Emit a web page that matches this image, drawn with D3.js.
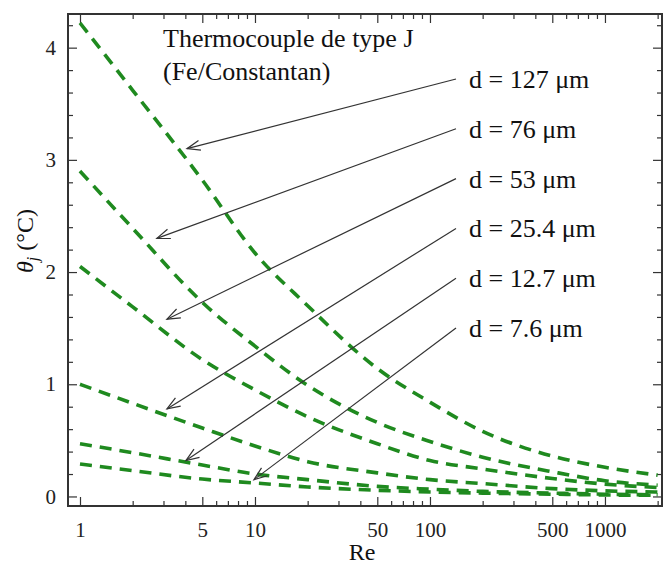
<!DOCTYPE html>
<html>

<head>
    <meta charset="UTF-8" />
    <title>thermocouple</title>
    <style>
        body {
            margin: 0;
            padding: 0;
            background: #fff;
        }

        svg text {
            font-family: 'Liberation Serif', 'DejaVu Serif', serif;
        }
    </style>
</head>

<body>
    <div class="container"></div>

    <script src="https://cdnjs.cloudflare.com/ajax/libs/d3/7.8.5/d3.min.js"></script>
    <script>
        const reValues = [1, 2, 5, 10, 20, 50, 100, 200, 500, 1000, 2000];

        const diameters = ["127", "76", "53", "25.4", "12.7", "7.6"];

        // theta_j (°C) for each wire diameter
        const theta127 = [4.22, 3.62, 2.82, 2.17, 1.70, 1.14, 0.84, 0.58, 0.36, 0.26, 0.19];
        const theta76 = [2.90, 2.39, 1.73, 1.34, 0.99, 0.66, 0.49, 0.35, 0.22, 0.14, 0.10];
        const theta53 = [2.05, 1.69, 1.22, 0.95, 0.71, 0.47, 0.32, 0.245, 0.16, 0.11, 0.08];
        const theta25 = [1.00, 0.83, 0.61, 0.45, 0.31, 0.21, 0.15, 0.115, 0.07, 0.05, 0.04];
        const theta12 = [0.47, 0.39, 0.28, 0.20, 0.15, 0.09, 0.065, 0.045, 0.03, 0.02, 0.015];
        const theta7 = [0.29, 0.23, 0.155, 0.12, 0.085, 0.055, 0.04, 0.03, 0.02, 0.013, 0.01];

        // where each arrow points (Re, theta)
        const arrowRe = [4.09, 2.75, 3.14, 3.14, 4.03, 9.87];
        const arrowTheta = [3.10, 2.30, 1.58, 0.78, 0.32, 0.15];

        const xTickLabels = [1, 5, 10, 50, 100, 500, 1000];
        const yTickLabels = [0, 1, 2, 3, 4];

        const series = [theta127, theta76, theta53, theta25, theta12, theta7];

        const W = 670, H = 570;
        const mLeft = 68, mRight = 662, mTop = 14, mBottom = 506;
        const serif = "'Liberation Serif', 'DejaVu Serif', serif";

        const svg = d3.select(".container").append("svg")
            .attr("width", W)
            .attr("height", H)
            .attr("font-family", serif)
            .style("display", "block");

        const x = d3.scaleLog().domain([0.854, 2118]).range([mLeft, mRight]);
        const y = d3.scaleLinear().domain([-0.085, 4.30]).range([mBottom, mTop]);

        const frameColor = "#333";

        // ticks
        const xMinor = [];
        [1, 10, 100, 1000].forEach(dec => {
            for (let k = 1; k < 10; k++) {
                const v = dec * k;
                if (v <= 2118 && !xTickLabels.includes(v)) xMinor.push(v);
            }
        });
        const yMinor = d3.range(0, 4.3, 0.2).filter(v => Math.abs(v - Math.round(v)) > 1e-6);

        function styleAxis(g) {
            g.attr("font-family", serif);
            g.select(".domain").remove();
            g.selectAll(".tick line").attr("stroke", frameColor).attr("stroke-width", 1.2);
        }

        // bottom
        svg.append("g").attr("transform", `translate(0,${mBottom})`)
            .call(d3.axisBottom(x).tickValues(xTickLabels).tickSize(-9).tickPadding(16)
                .tickFormat(d => d))
            .call(styleAxis)
            .call(g => g.selectAll("text")
                .attr("font-size", 21)
                .attr("fill", "#222"));
        svg.append("g").attr("transform", `translate(0,${mBottom})`)
            .call(d3.axisBottom(x).tickValues(xMinor).tickSize(-5).tickFormat(""))
            .call(styleAxis);

        // top
        svg.append("g").attr("transform", `translate(0,${mTop})`)
            .call(d3.axisTop(x).tickValues(xTickLabels).tickSize(-9).tickFormat(""))
            .call(styleAxis);
        svg.append("g").attr("transform", `translate(0,${mTop})`)
            .call(d3.axisTop(x).tickValues(xMinor).tickSize(-5).tickFormat(""))
            .call(styleAxis);

        // left
        svg.append("g").attr("transform", `translate(${mLeft},0)`)
            .call(d3.axisLeft(y).tickValues(yTickLabels).tickSize(-9).tickPadding(12)
                .tickFormat(d => d))
            .call(styleAxis)
            .call(g => g.selectAll("text")
                .attr("font-size", 21)
                .attr("fill", "#222"));
        svg.append("g").attr("transform", `translate(${mLeft},0)`)
            .call(d3.axisLeft(y).tickValues(yMinor).tickSize(-5).tickFormat(""))
            .call(styleAxis);

        // right
        svg.append("g").attr("transform", `translate(${mRight},0)`)
            .call(d3.axisRight(y).tickValues(yTickLabels).tickSize(-9).tickFormat(""))
            .call(styleAxis);
        svg.append("g").attr("transform", `translate(${mRight},0)`)
            .call(d3.axisRight(y).tickValues(yMinor).tickSize(-5).tickFormat(""))
            .call(styleAxis);

        // frame
        svg.append("rect")
            .attr("x", mLeft).attr("y", mTop)
            .attr("width", mRight - mLeft).attr("height", mBottom - mTop)
            .attr("fill", "none")
            .attr("stroke", frameColor)
            .attr("stroke-width", 2);

        // curves
        const lineGen = d3.line()
            .x(d => x(d[0]))
            .y(d => y(d[1]))
            .curve(d3.curveMonotoneX);

        series.forEach(vals => {
            const pts = reValues.map((r, i) => [r, vals[i]]);
            svg.append("path")
                .attr("d", lineGen(pts))
                .attr("fill", "none")
                .attr("stroke", "#1f8a1f")
                .attr("stroke-width", 3.6)
                .attr("stroke-dasharray", "12,8");
        });

        // title text
        const title = svg.append("text")
            .attr("font-size", 26)
            .attr("fill", "#111");
        title.append("tspan").attr("x", 163).attr("y", 47).text("Thermocouple de type J");
        title.append("tspan").attr("x", 163).attr("y", 80).text("(Fe/Constantan)");

        // labels + arrows
        const labelX = 469;
        diameters.forEach((dm, i) => {
            const by = 88 + i * 49.8;
            svg.append("text")
                .attr("x", labelX)
                .attr("y", by)
                .attr("font-size", 26)
                .attr("fill", "#111")
                .text(`d = ${dm} μm`);

            const x0 = labelX - 13, y0 = by - 9;
            const x1 = x(arrowRe[i]), y1 = y(arrowTheta[i]);
            svg.append("line")
                .attr("x1", x0).attr("y1", y0)
                .attr("x2", x1).attr("y2", y1)
                .attr("stroke", "#333")
                .attr("stroke-width", 1.2);

            const ang = Math.atan2(y0 - y1, x0 - x1);
            const len = 14, spread = 0.36;
            const head = [
                [x1 + len * Math.cos(ang - spread), y1 + len * Math.sin(ang - spread)],
                [x1, y1],
                [x1 + len * Math.cos(ang + spread), y1 + len * Math.sin(ang + spread)]
            ];
            svg.append("path")
                .attr("d", d3.line()(head))
                .attr("fill", "none")
                .attr("stroke", "#333")
                .attr("stroke-width", 1.2);
        });

        // axis titles
        svg.append("text")
            .attr("x", (mLeft + mRight) / 2 - 3)
            .attr("y", 560)
            .attr("text-anchor", "middle")
            .attr("font-size", 24)
            .attr("fill", "#111")
            .text("Re");

        const yt = svg.append("text")
            .attr("transform", "translate(33,241) rotate(-90)")
            .attr("text-anchor", "middle")
            .attr("font-size", 24)
            .attr("fill", "#111");
        yt.append("tspan").attr("font-style", "italic").text("θ");
        yt.append("tspan").attr("font-style", "italic").attr("font-size", 16).attr("dy", 5).text("j");
        yt.append("tspan").attr("dy", -5).text(" (°C)");
    </script>
</body>

</html>
